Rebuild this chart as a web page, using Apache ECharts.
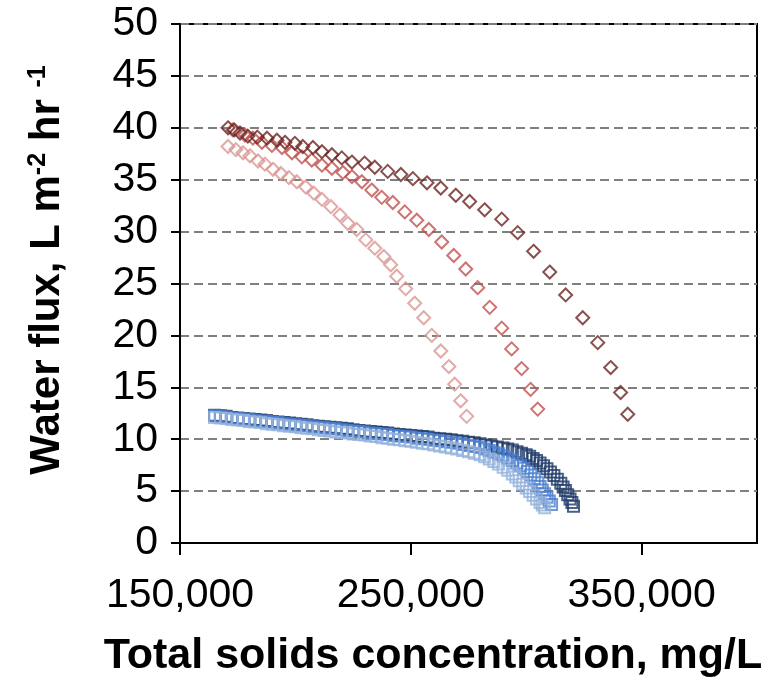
<!DOCTYPE html>
<html>
<head>
<meta charset="utf-8">
<title>Water flux vs total solids</title>
<script src="https://cdn.jsdelivr.net/npm/echarts@6/dist/echarts.min.js"></script>
<style>
  html, body { margin: 0; padding: 0; background: #fff; }
  #main { width: 764px; height: 677px; }
</style>
</head>
<body>
<div id="main"></div>
<script>
// tick labels
var xTicks = [150000, 250000, 350000];
var yTicks = [0, 5, 10, 15, 20, 25, 30, 35, 40, 45, 50];

// red runs (diamonds): [total solids mg/L, flux]
var redDark = [
  [170800, 40.0], [173500, 39.8], [176000, 39.5], [179400, 39.2], [183500, 39.1],
  [187700, 39.0], [192000, 38.8], [195500, 38.6], [199800, 38.5], [203200, 38.2],
  [207600, 38.1], [211500, 37.7], [215800, 37.4], [220100, 37.1], [224500, 36.7],
  [230000, 36.6], [234400, 36.2], [240000, 35.8], [245700, 35.5], [250900, 35.1],
  [257000, 34.7], [263000, 34.2], [269500, 33.5], [275500, 32.9], [282000, 32.1],
  [289400, 31.2], [296300, 29.9], [303200, 28.1], [310200, 26.1], [317100, 23.9],
  [324500, 21.7], [331000, 19.3], [336600, 16.9], [340900, 14.5], [344000, 12.4]
];
var redMid = [
  [172900, 39.8], [178100, 39.3], [181600, 39.0], [185500, 38.6], [189800, 38.3],
  [194200, 38.1], [198500, 37.6], [202800, 37.2], [207100, 36.9], [211500, 36.4],
  [215800, 36.1], [220600, 35.7], [224500, 35.3], [228800, 34.8], [233100, 34.0],
  [237400, 33.3], [242200, 32.8], [247400, 31.9], [252600, 31.1], [257800, 30.2],
  [263400, 29.0], [268600, 27.7], [273800, 26.4], [279000, 24.6], [284200, 22.7],
  [289400, 20.7], [293700, 18.7], [298000, 16.8], [301900, 14.8], [305000, 12.9]
];
var redLight = [
  [170800, 38.2], [174200, 37.9], [177300, 37.6], [180300, 37.3], [183800, 36.8],
  [186800, 36.5], [190300, 36.0], [193700, 35.6], [197200, 35.2], [200600, 34.8],
  [204500, 34.3], [208000, 33.7], [211500, 33.1], [215400, 32.4], [219300, 31.6],
  [222700, 30.8], [226600, 30.2], [230500, 29.2], [234400, 28.4], [238300, 27.6],
  [241300, 26.8], [243900, 25.7], [247800, 24.5], [251700, 23.1], [255600, 21.7],
  [259100, 20.0], [263000, 18.5], [266500, 17.0], [269000, 15.3], [271600, 13.7],
  [274200, 12.2]
];

// blue runs (squares)
var blueDark = [
  [165000, 12.3], [167500, 12.25], [170000, 12.2], [172500, 12.1], [175000, 12.05],
  [177500, 12.0], [180000, 11.95], [182500, 11.9], [185000, 11.85], [187500, 11.8],
  [190000, 11.7], [192500, 11.65], [195000, 11.6], [197500, 11.55], [200000, 11.5],
  [202500, 11.45], [205000, 11.4], [207500, 11.3], [210000, 11.25], [212500, 11.2],
  [215000, 11.15], [217500, 11.1], [220000, 11.05], [222500, 11.0], [225000, 10.9],
  [227500, 10.85], [230000, 10.8], [232500, 10.75], [235000, 10.7], [237500, 10.65],
  [240000, 10.6], [242500, 10.5], [245000, 10.45], [247500, 10.4], [250000, 10.35],
  [252500, 10.3], [255000, 10.25], [257500, 10.2], [260000, 10.1], [262500, 10.05],
  [265000, 10.0], [267500, 9.95], [270000, 9.85], [272500, 9.8], [275000, 9.7],
  [277500, 9.65], [280000, 9.55], [282500, 9.45], [285000, 9.35], [287500, 9.25],
  [290000, 9.15], [292000, 9.05], [294000, 8.95], [296000, 8.8], [298000, 8.65],
  [300000, 8.5], [301500, 8.35], [303000, 8.15], [304500, 7.95], [306000, 7.7],
  [307500, 7.45], [309000, 7.15], [310500, 6.85], [312000, 6.5], [313500, 6.15],
  [315000, 5.75], [316000, 5.4], [317000, 5.05], [318000, 4.65], [319000, 4.25],
  [319800, 3.9], [320500, 3.55]
];
var blueMid = [
  [165000, 12.25], [167500, 12.2], [170000, 12.1], [172500, 12.05], [175000, 12.0],
  [177500, 11.95], [180000, 11.9], [182500, 11.8], [185000, 11.75], [187500, 11.7],
  [190000, 11.65], [192500, 11.6], [195000, 11.5], [197500, 11.45], [200000, 11.4],
  [202500, 11.35], [205000, 11.3], [207500, 11.2], [210000, 11.15], [212500, 11.1],
  [215000, 11.05], [217500, 11.0], [220000, 10.9], [222500, 10.85], [225000, 10.8],
  [227500, 10.75], [230000, 10.7], [232500, 10.6], [235000, 10.55], [237500, 10.5],
  [240000, 10.45], [242500, 10.35], [245000, 10.3], [247500, 10.25], [250000, 10.2],
  [252500, 10.1], [255000, 10.05], [257500, 10.0], [260000, 9.9], [262500, 9.85],
  [265000, 9.75], [267500, 9.7], [270000, 9.6], [272500, 9.5], [275000, 9.4],
  [277500, 9.3], [280000, 9.2], [282000, 9.05], [284000, 8.9], [286000, 8.75],
  [288000, 8.6], [290000, 8.4], [292000, 8.2], [294000, 7.95], [296000, 7.7],
  [297500, 7.45], [299000, 7.2], [300500, 6.9], [302000, 6.55], [303500, 6.2],
  [305000, 5.8], [306000, 5.45], [307000, 5.1], [308000, 4.75], [309000, 4.4],
  [310000, 4.05], [311000, 3.7]
];
var blueLight = [
  [165000, 12.1], [167500, 12.05], [170000, 12.0], [172500, 11.9], [175000, 11.85],
  [177500, 11.8], [180000, 11.7], [182500, 11.65], [185000, 11.6], [187500, 11.5],
  [190000, 11.45], [192500, 11.4], [195000, 11.3], [197500, 11.25], [200000, 11.2],
  [202500, 11.1], [205000, 11.05], [207500, 11.0], [210000, 10.9], [212500, 10.85],
  [215000, 10.8], [217500, 10.7], [220000, 10.65], [222500, 10.6], [225000, 10.5],
  [227500, 10.45], [230000, 10.4], [232500, 10.3], [235000, 10.25], [237500, 10.15],
  [240000, 10.1], [242500, 10.0], [245000, 9.95], [247500, 9.85], [250000, 9.8],
  [252500, 9.7], [255000, 9.6], [257500, 9.55], [260000, 9.45], [262500, 9.35],
  [265000, 9.25], [267500, 9.15], [270000, 9.05], [272500, 8.9], [275000, 8.8],
  [277500, 8.65], [280000, 8.5], [282000, 8.3], [284000, 8.1], [286000, 7.85],
  [288000, 7.6], [290000, 7.3], [292000, 7.0], [294000, 6.65], [295500, 6.35],
  [297000, 6.0], [298500, 5.65], [300000, 5.3], [301500, 4.95], [303000, 4.6],
  [304500, 4.25], [306000, 3.9], [307000, 3.65], [308000, 3.4]
];

var FONT = '"Liberation Sans", Arial, sans-serif';

function squares(data, color) {
  return {
    type: 'scatter', data: data, symbol: 'rect', symbolSize: 11,
    itemStyle: { color: 'rgba(0,0,0,0)', borderColor: color, borderWidth: 2 }
  };
}
function diamonds(data, color) {
  return {
    type: 'scatter', data: data, symbol: 'diamond', symbolSize: 13,
    itemStyle: { color: 'rgba(0,0,0,0)', borderColor: color, borderWidth: 2 }
  };
}

var chart = echarts.init(document.getElementById('main'));
chart.setOption({
  animation: false,
  backgroundColor: '#fff',
  grid: { left: 180, right: 7, top: 24, bottom: 134, show: true, borderColor: '#000', borderWidth: 2 },
  xAxis: {
    type: 'value', min: xTicks[0], max: 400000, interval: xTicks[1] - xTicks[0],
    axisLine: { lineStyle: { color: '#000', width: 2 } },
    axisTick: { length: 12, lineStyle: { color: '#000', width: 2 } },
    axisLabel: {
      showMaxLabel: false, margin: 32, fontSize: 41, color: '#000', fontFamily: FONT,
      formatter: function (v) { return xTicks.indexOf(v) >= 0 ? v.toLocaleString('en-US') : ''; }
    },
    splitLine: { show: false }
  },
  yAxis: {
    type: 'value', min: yTicks[0], max: yTicks[yTicks.length - 1], interval: yTicks[1] - yTicks[0],
    axisLine: { show: true, lineStyle: { color: '#000', width: 2 } },
    axisTick: { show: true, length: 9, lineStyle: { color: '#000', width: 2 } },
    axisLabel: { margin: 22, fontSize: 41, color: '#000', fontFamily: FONT },
    splitLine: { lineStyle: { color: '#808080', width: 2, type: [9, 5] } }
  },
  graphic: [
    {
      type: 'text', x: 433, y: 656,
      style: {
        text: 'Total solids concentration, mg/L', fontSize: 43, fontWeight: 'bold',
        fontFamily: FONT, fill: '#000', align: 'center', verticalAlign: 'middle'
      }
    },
    {
      type: 'text', x: 47, y: 270, rotation: Math.PI / 2,
      style: {
        text: 'Water flux, L m{s|-2} hr {s|-1}', fontSize: 42, fontWeight: 'bold',
        fontFamily: FONT, fill: '#000', align: 'center', verticalAlign: 'middle',
        rich: { s: { fontSize: 25, fontWeight: 'bold', fontFamily: FONT, verticalAlign: 'top' } }
      }
    }
  ],
  series: [
    squares(blueDark, '#1F3A68'),
    squares(blueMid, '#4A7ED0'),
    squares(blueLight, '#92B1DB'),
    diamonds(redLight, '#D99694'),
    diamonds(redMid, '#C0504D'),
    diamonds(redDark, '#6B2422')
  ]
});
</script>
</body>
</html>
